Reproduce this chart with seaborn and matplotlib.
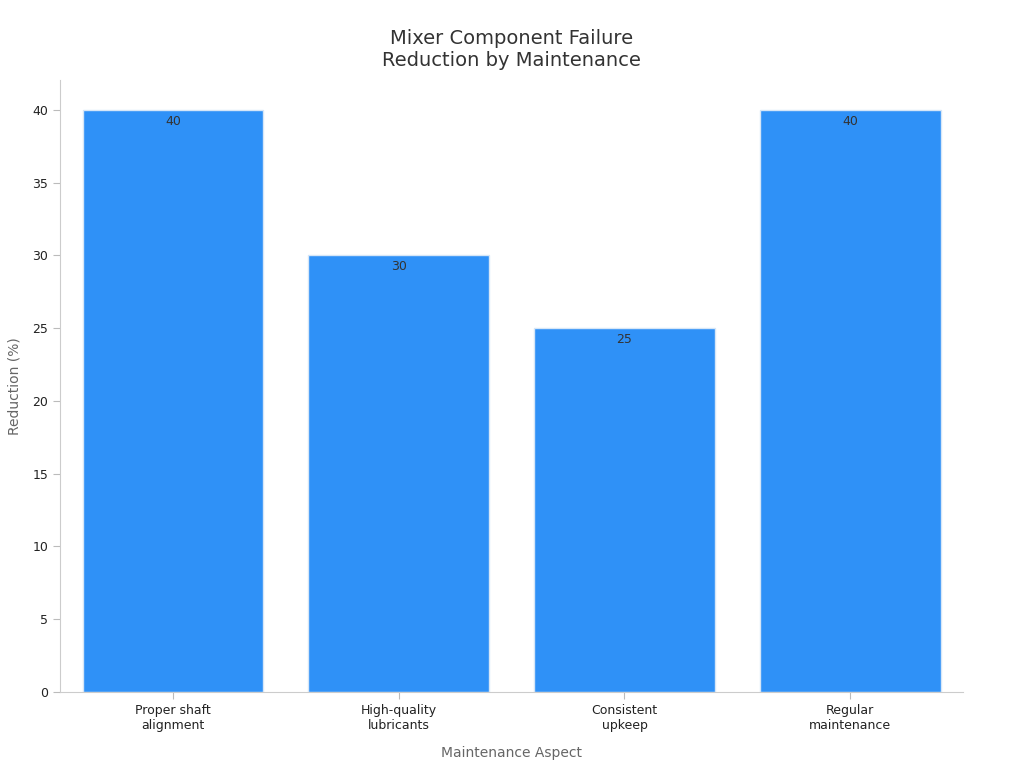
import matplotlib
matplotlib.use("Agg")
import matplotlib.pyplot as plt
import seaborn as sns
import pandas as pd

categories = ["Proper shaft\nalignment", "High-quality\nlubricants", "Consistent\nupkeep", "Regular\nmaintenance"]
reduction = [40, 30, 25, 40]

df = pd.DataFrame({"aspect": categories, "reduction": reduction})

sns.set_style("white")
plt.rcParams['font.family'] = ['DejaVu Sans']
fig = plt.figure(figsize=(10.24, 7.68), dpi=100)
ax = fig.add_axes([0.0586, 0.099, 0.882, 0.797])

sns.barplot(data=df, x="aspect", y="reduction", color="#2f91f7", saturation=1,
            width=0.8, edgecolor="#d6e6f7", linewidth=1, ax=ax)

for i, v in enumerate(reduction):
    ax.text(i, v - 0.35, f"{v}", ha="center", va="top", fontsize=9, color="#333333")

ax.set_xlim(-0.5, 3.5)
ax.set_ylim(0, 42.06)
ax.set_yticks(range(0, 41, 5))
ax.tick_params(axis="both", labelsize=9, colors="#222222")
ax.tick_params(axis="y", left=True, length=5, color="#bbbbbb")
ax.tick_params(axis="x", bottom=True, length=5, color="#bbbbbb")
ax.set_xlabel("Maintenance Aspect", fontsize=10, color="#666666", labelpad=10)
ax.set_ylabel("Reduction (%)", fontsize=10, color="#666666", labelpad=8)
ax.set_title("Mixer Component Failure\nReduction by Maintenance", fontsize=14, color="#333333", pad=10)
sns.despine(ax=ax)
for s in ["left", "bottom"]:
    ax.spines[s].set_color("#cccccc")

fig.savefig("out.png", dpi=100)
